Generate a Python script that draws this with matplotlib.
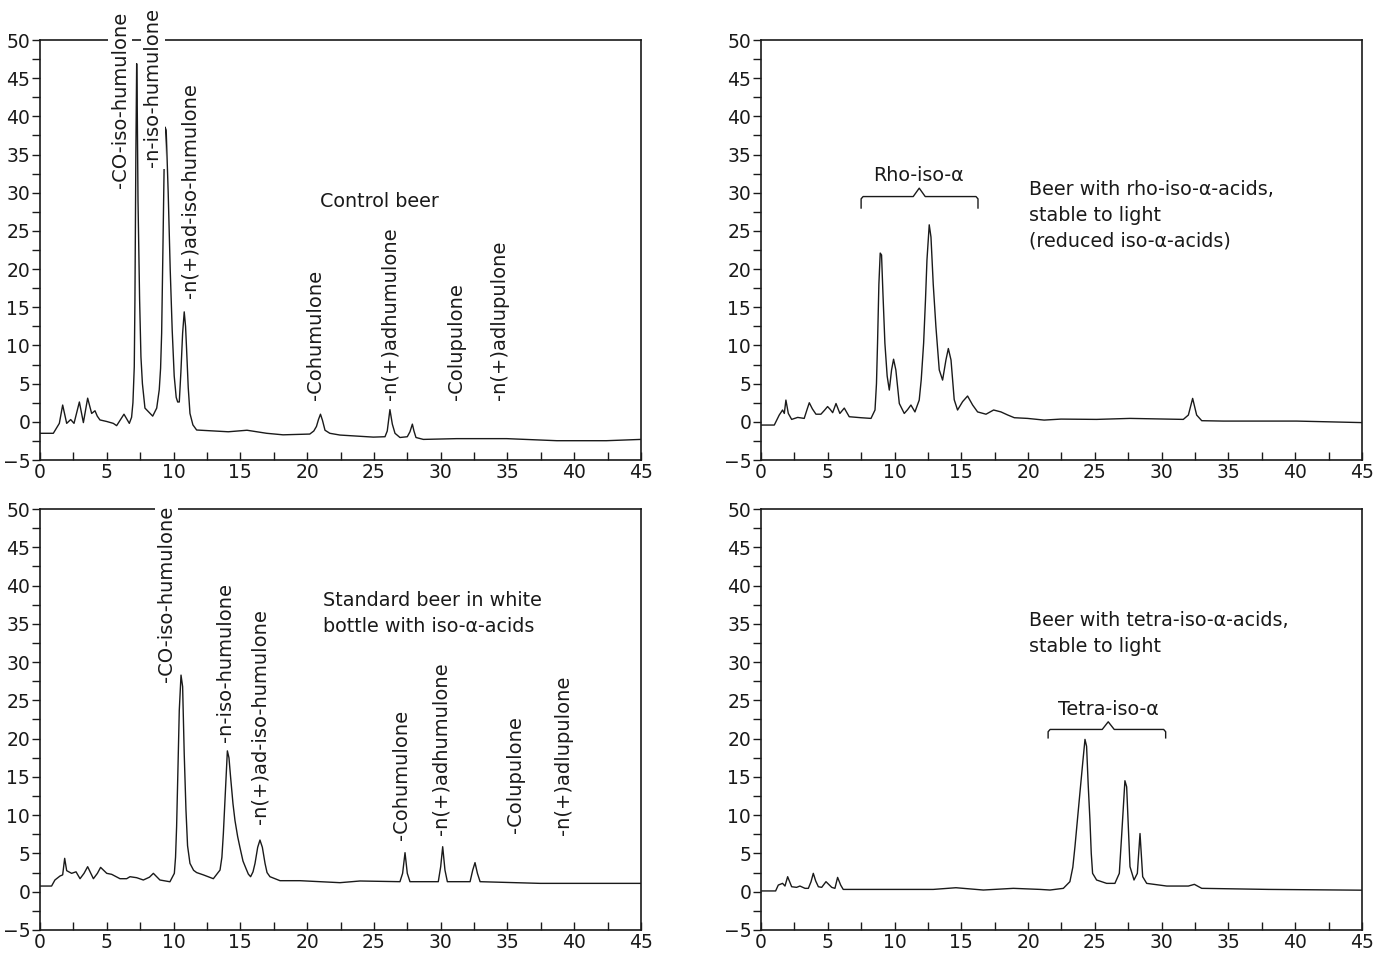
import matplotlib
matplotlib.use("Agg")
import matplotlib.pyplot as plt
from matplotlib.ticker import MultipleLocator

# ---- data (time in min, signal) ----

# control beer
control_t = [0, 1.0, 1.45, 1.7, 2.0, 2.3, 2.55, 2.95, 3.25, 3.57, 3.87, 4.12, 4.29, 4.49,
             4.99, 5.49, 5.74, 6.29, 6.69, 6.86, 6.96, 7.06, 7.11, 7.18, 7.24, 7.28, 7.34,
             7.46, 7.56, 7.67, 7.86, 8.44, 8.74, 8.93, 9.03, 9.11, 9.2, 9.3, 9.36, 9.45,
             9.6, 9.75, 9.9, 10.05, 10.2, 10.31, 10.43, 10.55, 10.68, 10.8, 10.9, 10.98,
             11.1, 11.23, 11.45, 11.73, 14.1, 15.5, 16.97, 18.2, 20.2, 20.5, 20.7, 20.85,
             21.0, 21.15, 21.34, 21.7, 22.46, 24.96, 25.83, 26.0, 26.2, 26.38, 26.58,
             26.95, 27.5, 27.7, 27.88, 28.0, 28.15, 28.7, 31.2, 34.94, 38.7, 42.4, 45.0]
control_y = [-1.5, -1.5, -0.2, 2.2, -0.2, 0.3, -0.2, 2.6, -0.1, 3.1, 1.1, 1.45, 0.75, 0.25,
             0.05, -0.2, -0.5, 1.0, -0.2, 0.6, 2.5, 7.2, 16.0, 35.0, 46.9, 42.0, 29.0,
             16.0, 8.5, 5.0, 1.8, 0.75, 1.8, 4.2, 7.0, 11.6, 22.0, 34.0, 38.6, 38.2,
             30.0, 20.0, 12.0, 6.0, 3.2, 2.6, 2.6, 6.5, 11.6, 14.4, 12.5, 9.4,
             4.5, 1.1, -0.4, -1.07, -1.3, -1.1, -1.5, -1.7, -1.6, -1.2, -0.6, 0.3,
             1.0, 0.2, -1.1, -1.5, -1.73, -2.0, -1.95, -1.2, 1.6, -0.3, -1.5,
             -2.05, -1.95, -1.3, -0.3, -1.2, -2.05, -2.3, -2.2, -2.2, -2.47, -2.47, -2.3]
control_names = ["-CO-iso-humulone", "-n-iso-humulone", "-n(+)ad-iso-humulone",
                 "-Cohumulone", "-n(+)adhumulone", "-Colupulone", "-n(+)adlupulone"]

# rho-iso-alpha beer
rho_t = [0, 1.0, 1.37, 1.62, 1.75, 1.87, 2.05, 2.3, 2.75, 3.24, 3.45, 3.62, 3.85, 4.12,
         4.49, 4.75, 4.99, 5.2, 5.37, 5.62, 5.91, 6.24, 6.61, 7.49, 8.24, 8.54, 8.65, 8.73,
         8.83, 8.93, 9.03, 9.13, 9.28, 9.45, 9.61, 9.78, 9.93, 10.1, 10.36, 10.73, 10.98,
         11.23, 11.53, 11.85, 12.0, 12.18, 12.32, 12.43, 12.6, 12.73, 12.9, 13.1, 13.35,
         13.6, 13.85, 14.03, 14.23, 14.47, 14.72, 15.1, 15.47, 15.85, 16.22, 16.85,
         17.42, 17.97, 18.47, 18.97, 19.96, 21.2, 22.46, 25.13, 27.63, 31.62, 32.0,
         32.32, 32.62, 33.0, 34.6, 40.1, 45.0]
rho_y = [-0.42, -0.42, 0.89, 1.55, 1.1, 2.85, 1.1, 0.32, 0.58, 0.45, 1.6, 2.5, 1.7, 1.0,
         1.0, 1.5, 2.0, 1.6, 1.2, 2.4, 1.1, 1.8, 0.67, 0.54, 0.45, 1.55, 5.0, 10.3,
         18.0, 22.1, 21.85, 17.0, 10.3, 6.0, 4.16, 6.8, 8.2, 6.8, 2.4, 1.1, 1.6,
         2.2, 1.3, 2.85, 5.5, 10.3, 16.0, 21.2, 25.8, 24.2, 18.0, 12.45, 6.8,
         5.47, 8.1, 9.6, 8.1, 2.9, 1.55, 2.65, 3.38, 2.2, 1.3, 1.0,
         1.55, 1.3, 0.9, 0.54, 0.45, 0.23, 0.36, 0.32, 0.45, 0.32, 0.89,
         3.07, 0.89, 0.15, 0.1, 0.1, -0.1]

# standard beer in white bottle
std_t = [0, 0.87, 1.12, 1.5, 1.7, 1.85, 2.0, 2.37, 2.7, 3.0, 3.3, 3.57, 4.0, 4.3, 4.54,
         5.0, 5.37, 5.99, 6.49, 6.74, 7.24, 7.74, 8.2, 8.49, 8.98, 9.73, 10.06, 10.15,
         10.23, 10.33, 10.43, 10.56, 10.68, 10.8, 10.93, 11.05, 11.23, 11.5, 11.73,
         12.23, 12.98, 13.48, 13.62, 13.73, 13.88, 14.03, 14.15, 14.27, 14.45, 14.6,
         14.8, 14.97, 15.2, 15.42, 15.6, 15.77, 15.95, 16.1, 16.3, 16.47, 16.65, 16.85,
         17.0, 17.22, 17.97, 19.47, 22.46, 23.96, 26.95, 27.15, 27.33, 27.5, 27.7,
         29.82, 30.0, 30.15, 30.32, 30.5, 32.2, 32.4, 32.57, 32.75, 32.95, 37.44, 45.0]
std_y = [0.74, 0.74, 1.53, 2.05, 2.2, 4.36, 2.75, 2.4, 2.6, 1.7, 2.4, 3.27, 1.7, 2.4, 3.18,
         2.4, 2.27, 1.7, 1.7, 1.96, 1.83, 1.53, 1.9, 2.4, 1.53, 1.3, 2.4, 4.5,
         8.5, 16.0, 23.7, 28.3, 26.8, 18.0, 10.7, 6.0, 3.7, 2.8, 2.5,
         2.2, 1.7, 2.83, 4.5, 7.6, 13.0, 18.4, 17.5, 15.0, 11.5, 9.3,
         7.2, 5.8, 4.0, 3.05, 2.3, 1.96, 2.6, 3.7, 5.8, 6.75, 5.8, 3.7,
         2.5, 1.96, 1.44, 1.44, 1.18, 1.4, 1.31, 2.4, 5.1, 2.4, 1.31,
         1.31, 3.27, 5.88, 2.83, 1.31, 1.31, 2.83, 3.8, 2.4, 1.31, 1.09, 1.09]
std_names = control_names

# tetra-iso-alpha beer
tetra_t = [0, 1.1, 1.3, 1.62, 1.8, 2.0, 2.3, 2.67, 2.92, 3.3, 3.55, 3.75, 3.92, 4.1, 4.3,
           4.55, 4.87, 5.3, 5.54, 5.74, 5.97, 6.16, 10.4, 12.9, 14.6, 16.65, 18.9, 20.9,
           21.64, 22.64, 23.13, 23.35, 23.51, 23.7, 23.88, 24.1, 24.26, 24.38, 24.5,
           24.63, 24.73, 24.83, 25.13, 25.88, 26.5, 26.83, 27.0, 27.25, 27.38, 27.63,
           27.93, 28.18, 28.38, 28.58, 28.88, 30.38, 32.0, 32.45, 33.0, 38.0, 45.0]
tetra_y = [0.1, 0.1, 0.87, 1.09, 0.74, 1.96, 0.65, 0.57, 0.74, 0.44, 0.44, 1.3, 2.4, 1.4,
           0.65, 0.57, 1.31, 0.57, 0.44, 1.87, 0.87, 0.3, 0.3, 0.3, 0.52, 0.22, 0.44, 0.3,
           0.22, 0.44, 1.31, 3.2, 5.9, 9.5, 12.9, 17.0, 19.9, 19.0, 14.0,
           9.4, 5.0, 2.4, 1.53, 1.09, 1.09, 2.4, 7.2, 14.5, 13.7, 3.27,
           1.53, 2.4, 7.6, 1.96, 1.09, 0.74, 0.74, 0.96, 0.44, 0.3, 0.2]

ink = "#1a1a1a"
plt.rcParams["font.family"] = ["DejaVu Sans"]

fig = plt.figure(figsize=(13.78, 9.55), dpi=100)
ax_tl = fig.add_axes([0.029, 0.5183, 0.4362, 0.4398])
ax_tr = fig.add_axes([0.5522, 0.5183, 0.4362, 0.4398])
ax_bl = fig.add_axes([0.029, 0.0262, 0.4362, 0.4408])
ax_br = fig.add_axes([0.5522, 0.0262, 0.4362, 0.4408])


def setup(ax):
    ax.set_xlim(0, 45)
    ax.set_ylim(-5, 50)
    ax.xaxis.set_major_locator(MultipleLocator(5))
    ax.xaxis.set_minor_locator(MultipleLocator(2.5))
    ax.yaxis.set_major_locator(MultipleLocator(5))
    ax.yaxis.set_minor_locator(MultipleLocator(2.5))
    ax.tick_params(axis="x", which="both", direction="in", length=6, width=1.0,
                   color=ink, labelsize=13.5, labelcolor=ink, pad=2)
    ax.tick_params(axis="y", which="both", direction="out", length=6, width=1.0,
                   color=ink, labelsize=13.5, labelcolor=ink, pad=1)
    for s in ax.spines.values():
        s.set_linewidth(1.2)
        s.set_color(ink)


def peak_labels(ax, names, xs, ys):
    for name, x, y in zip(names, xs, ys):
        ax.text(x, y, name, rotation=90, ha="center", va="bottom", fontsize=14,
                color=ink, clip_on=False, zorder=5,
                bbox=dict(facecolor="white", edgecolor="none", pad=1.5))


def brace(ax, x0, x1, xc, y_end, y_bar, y_top):
    ax.plot([x0, x0, x0 + 0.15, xc - 0.45, xc, xc + 0.45, x1 - 0.15, x1, x1],
            [y_end, y_bar - 0.3, y_bar, y_bar, y_top, y_bar, y_bar, y_bar - 0.3, y_end],
            color=ink, lw=1.0)


for ax in (ax_tl, ax_tr, ax_bl, ax_br):
    setup(ax)

ax_tl.plot(control_t, control_y, color=ink, lw=1.0)
ax_tr.plot(rho_t, rho_y, color=ink, lw=1.0)
ax_bl.plot(std_t, std_y, color=ink, lw=1.0)
ax_br.plot(tetra_t, tetra_y, color=ink, lw=1.0)

fs = 13.8

# top left: control beer
peak_labels(ax_tl, control_names,
            [6.0, 8.46, 11.2, 20.6, 26.2, 31.2, 34.4],
            [30.6, 33.4, 16.2, 2.9, 2.9, 2.9, 2.9])
ax_tl.text(21.0, 28.8, "Control beer", fontsize=fs, color=ink, va="center")

# top right: rho-iso-alpha
ax_tr.text(11.8, 32.2, "Rho-iso-\u03b1", fontsize=fs, color=ink, ha="center", va="center")
brace(ax_tr, 7.5, 16.25, 11.85, 28.0, 29.5, 30.6)
ax_tr.text(20.1, 30.4, "Beer with rho-iso-\u03b1-acids,", fontsize=fs, color=ink, va="center")
ax_tr.text(20.1, 27.0, "stable to light", fontsize=fs, color=ink, va="center")
ax_tr.text(20.1, 23.7, "(reduced iso-\u03b1-acids)", fontsize=fs, color=ink, va="center")

# bottom left: standard beer
peak_labels(ax_bl, std_names,
            [9.5, 13.9, 16.5, 27.1, 30.0, 35.6, 39.2],
            [27.4, 19.5, 8.8, 6.8, 7.4, 7.7, 7.4])
ax_bl.text(21.2, 38.0, "Standard beer in white", fontsize=fs, color=ink, va="center")
ax_bl.text(21.2, 34.6, "bottle with iso-\u03b1-acids", fontsize=fs, color=ink, va="center")

# bottom right: tetra-iso-alpha
ax_br.text(20.1, 35.4, "Beer with tetra-iso-\u03b1-acids,", fontsize=fs, color=ink, va="center")
ax_br.text(20.1, 32.0, "stable to light", fontsize=fs, color=ink, va="center")
ax_br.text(26.0, 23.8, "Tetra-iso-\u03b1", fontsize=fs, color=ink, ha="center", va="center")
brace(ax_br, 21.5, 30.3, 26.0, 20.1, 21.2, 22.2)

fig.savefig("out.png", dpi=100)
